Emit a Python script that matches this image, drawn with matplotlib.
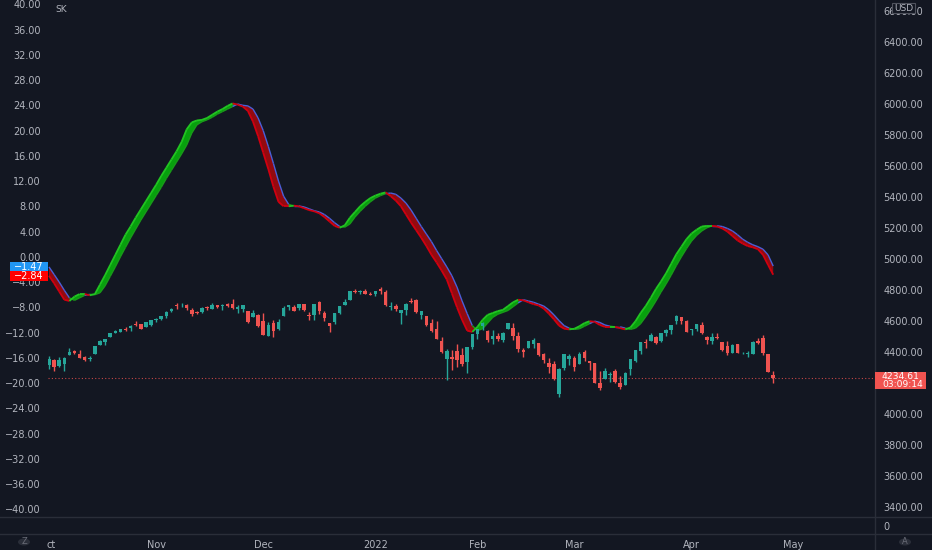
import numpy as np
import matplotlib
matplotlib.use("Agg")
import matplotlib.pyplot as plt
from matplotlib.patches import Rectangle, Circle
from matplotlib.lines import Line2D
from matplotlib.collections import LineCollection

# ---------------- data (daily bars, Oct 2021 - Apr 2022) ----------------
opens = [4317, 4348, 4310, 4320, 4384, 4406, 4386, 4368, 4358, 4387,
         4448, 4464, 4497, 4524, 4532, 4547, 4553, 4579, 4580, 4562,
         4573, 4610, 4613, 4631, 4662, 4699, 4702, 4707, 4670, 4659,
         4656, 4689, 4679, 4701, 4700, 4708, 4712, 4679, 4675, 4664,
         4628, 4640, 4602, 4504, 4590, 4548, 4632, 4690, 4691, 4687,
         4710, 4642, 4637, 4720, 4652, 4587, 4594, 4650, 4703, 4733,
         4795, 4789, 4795, 4775, 4778, 4804, 4788, 4693, 4698, 4655,
         4670, 4729, 4733, 4637, 4632, 4588, 4547, 4471, 4356, 4367,
         4408, 4381, 4337, 4432, 4519, 4566, 4535, 4483, 4505, 4480,
         4547, 4554, 4506, 4412, 4429, 4455, 4456, 4385, 4332, 4325,
         4130, 4298, 4355, 4363, 4322, 4401, 4342, 4327, 4203, 4224,
         4253, 4279, 4203, 4188, 4288, 4345, 4407, 4463, 4470, 4494,
         4470, 4522, 4541, 4602, 4624, 4599, 4540, 4547, 4572, 4495,
         4474, 4494, 4462, 4437, 4394, 4449, 4392, 4385, 4390, 4473,
         4489, 4385, 4255]
highs = [4375, 4356, 4369, 4366, 4429, 4412, 4415, 4375, 4373, 4439,
         4475, 4487, 4521, 4540, 4551, 4560, 4572, 4599, 4584, 4597,
         4608, 4620, 4635, 4664, 4684, 4719, 4714, 4708, 4685, 4664,
         4688, 4697, 4714, 4701, 4708, 4718, 4744, 4701, 4703, 4664,
         4672, 4646, 4652, 4595, 4608, 4613, 4695, 4705, 4706, 4713,
         4710, 4660, 4710, 4732, 4666, 4587, 4651, 4698, 4741, 4791,
         4808, 4800, 4808, 4787, 4797, 4819, 4798, 4725, 4708, 4673,
         4714, 4749, 4744, 4666, 4632, 4611, 4603, 4495, 4418, 4411,
         4453, 4428, 4432, 4517, 4550, 4596, 4542, 4540, 4521, 4531,
         4590, 4589, 4527, 4427, 4473, 4490, 4456, 4395, 4362, 4339,
         4295, 4385, 4388, 4375, 4401, 4416, 4343, 4328, 4276, 4299,
         4268, 4292, 4247, 4272, 4358, 4412, 4465, 4482, 4522, 4501,
         4520, 4546, 4575, 4637, 4627, 4604, 4548, 4583, 4593, 4503,
         4521, 4521, 4464, 4471, 4453, 4453, 4400, 4410, 4471, 4489,
         4512, 4386, 4275]
lows = [4289, 4279, 4304, 4278, 4384, 4386, 4360, 4342, 4341, 4387,
        4448, 4447, 4496, 4524, 4527, 4538, 4537, 4569, 4551, 4562,
        4568, 4595, 4604, 4621, 4659, 4681, 4694, 4670, 4630, 4648,
        4651, 4672, 4679, 4685, 4672, 4692, 4681, 4655, 4660, 4585,
        4625, 4560, 4511, 4504, 4495, 4541, 4632, 4670, 4667, 4670,
        4666, 4607, 4607, 4647, 4600, 4531, 4583, 4645, 4703, 4733,
        4780, 4778, 4775, 4766, 4759, 4774, 4699, 4671, 4663, 4582,
        4638, 4718, 4650, 4614, 4568, 4531, 4482, 4396, 4222, 4287,
        4304, 4309, 4264, 4421, 4484, 4544, 4465, 4451, 4471, 4465,
        4547, 4477, 4402, 4365, 4429, 4429, 4373, 4328, 4267, 4222,
        4110, 4287, 4318, 4279, 4322, 4345, 4285, 4199, 4157, 4224,
        4209, 4202, 4162, 4187, 4252, 4335, 4390, 4425, 4469, 4455,
        4465, 4501, 4517, 4581, 4581, 4530, 4507, 4539, 4514, 4450,
        4451, 4487, 4408, 4382, 4392, 4392, 4385, 4370, 4390, 4452,
        4384, 4268, 4200]
closes = [4357, 4301, 4346, 4364, 4400, 4391, 4361, 4350, 4364, 4439,
          4471, 4486, 4520, 4537, 4550, 4545, 4567, 4575, 4551, 4597,
          4605, 4613, 4631, 4660, 4680, 4697, 4702, 4685, 4646, 4649,
          4683, 4682, 4701, 4689, 4705, 4698, 4682, 4690, 4701, 4595,
          4655, 4567, 4513, 4577, 4538, 4592, 4686, 4701, 4667, 4712,
          4669, 4635, 4709, 4668, 4621, 4568, 4649, 4697, 4726, 4791,
          4786, 4793, 4778, 4766, 4797, 4794, 4701, 4696, 4677, 4670,
          4713, 4726, 4659, 4663, 4577, 4533, 4483, 4398, 4410, 4356,
          4350, 4326, 4432, 4516, 4546, 4589, 4477, 4501, 4484, 4522,
          4587, 4504, 4419, 4402, 4472, 4475, 4380, 4349, 4305, 4226,
          4288, 4385, 4374, 4306, 4387, 4363, 4329, 4201, 4171, 4278,
          4260, 4204, 4173, 4262, 4358, 4412, 4463, 4461, 4512, 4457,
          4520, 4543, 4575, 4632, 4602, 4530, 4546, 4583, 4526, 4481,
          4500, 4488, 4413, 4397, 4447, 4392, 4394, 4392, 4463, 4459,
          4394, 4272, 4234.61]

sk_k = [-3.0, -4.2, -5.5, -6.8, -7.0, -6.3, -5.9, -5.9, -6.1, -5.9,
        -4.4, -2.9, -1.3, 0.3, 1.9, 3.5, 4.8, 6.2, 7.5, 8.8,
        10.1, 11.4, 12.8, 14.1, 15.4, 16.7, 18.2, 20.2, 21.3, 21.6,
        21.7, 22.0, 22.5, 23.0, 23.4, 23.9, 24.3, 24.1, 23.8, 23.1,
        21.4, 19.1, 16.5, 13.9, 11.1, 8.7, 8.0, 8.0, 8.1, 8.0,
        7.7, 7.4, 7.2, 6.9, 6.3, 5.6, 4.9, 4.6, 5.0, 6.2,
        7.1, 8.0, 8.7, 9.3, 9.7, 10.0, 10.2, 9.6, 8.9, 8.0,
        6.7, 5.4, 4.2, 3.0, 1.7, 0.3, -0.9, -2.2, -3.6, -5.8,
        -8.0, -10.0, -11.7, -11.9, -11.1, -10.0, -9.2, -8.9, -8.6, -8.4,
        -7.8, -7.2, -6.8, -6.9, -7.2, -7.5, -7.7, -8.2, -9.0, -9.9,
        -10.9, -11.4, -11.5, -11.4, -11.0, -10.5, -10.2, -10.3, -10.8, -11.1,
        -11.1, -11.1, -11.3, -11.5, -11.2, -10.2, -8.9, -7.8, -6.5, -5.1,
        -3.9, -2.6, -1.1, 0.4, 1.6, 2.8, 3.7, 4.3, 4.8, 4.9,
        4.9, 4.8, 4.5, 4.0, 3.3, 2.6, 2.1, 1.7, 1.5, 1.2,
        0.3, -1.3, -2.84]
sk_d = [-1.6, -2.8, -4.0, -5.3, -6.5, -6.9, -6.5, -6.1, -5.95, -6.0,
        -5.7, -4.6, -3.1, -1.6, 0.0, 1.5, 3.0, 4.4, 5.8, 7.1,
        8.4, 9.7, 11.0, 12.4, 13.7, 15.0, 16.3, 17.7, 19.6, 20.9,
        21.4, 21.7, 22.1, 22.6, 23.0, 23.4, 23.8, 24.2, 24.0, 23.9,
        23.4, 22.0, 20.0, 17.5, 14.8, 12.0, 9.6, 8.3, 8.05, 8.05,
        7.9, 7.6, 7.3, 7.1, 6.7, 6.1, 5.4, 4.8, 4.7, 5.2,
        6.3, 7.2, 8.0, 8.7, 9.3, 9.7, 10.0, 10.1, 9.9, 9.3,
        8.5, 7.4, 6.1, 4.8, 3.6, 2.4, 1.0, -0.3, -1.6, -3.0,
        -4.8, -7.0, -9.0, -10.9, -11.7, -11.4, -10.5, -9.6, -9.1, -8.8,
        -8.5, -7.9, -7.3, -6.8, -7.0, -7.2, -7.5, -7.8, -8.4, -9.2,
        -10.1, -10.9, -11.3, -11.5, -11.4, -11.0, -10.6, -10.2, -10.4, -10.8,
        -11.0, -11.1, -11.1, -11.3, -11.5, -11.3, -10.6, -9.5, -8.3, -7.0,
        -5.6, -4.3, -2.9, -1.4, 0.0, 1.3, 2.5, 3.4, 4.1, 4.6,
        4.9, 4.9, 4.8, 4.5, 4.1, 3.5, 2.8, 2.3, 1.9, 1.6,
        1.2, 0.3, -1.47]

month_labels = ["ct", "Nov", "Dec", "2022", "Feb", "Mar", "Apr", "May"]
month_bars = [0.5, 21, 42, 64, 84, 103, 126, 146]
sk_ticks = list(range(-40, 41, 4))
price_ticks = [3400, 3600, 3800, 4000, 4400, 4600, 4800, 5000, 5200, 5400,
               5600, 5800, 6000, 6200, 6400, 6600]
last_price = 4234.61
countdown = "03:09:14"

# ---------------- style ----------------
BG = "#131722"
TXT = "#b2b5be"
SEP = "#2a2e39"
UP = "#26a69a"
DN = "#ef5350"
W, H = 932, 550

plt.rcParams['font.family'] = ['DejaVu Sans']
fig = plt.figure(figsize=(W / 100, H / 100), dpi=100, facecolor=BG)

def fx(px):
    return px / W

def fy(py):
    return 1 - py / H

L, R = 48, 875
ax = fig.add_axes([fx(L), fy(517), fx(R) - fx(L), 517 / H])
ax.set_facecolor(BG)
axp = ax.twinx()
ax3 = fig.add_axes([fx(L), fy(534), fx(R) - fx(L), 17 / H], sharex=ax)
ax3.set_facecolor(BG)

n = len(closes)
x = np.arange(n)
ax.set_xlim(-0.196, 161.96)

# ---- indicator ----
k = np.array(sk_k)
d = np.array(sk_d)
ax.fill_between(x, k, d, where=k >= d, interpolate=True, color="#00ff00", alpha=0.6, lw=0, zorder=2)
ax.fill_between(x, k, d, where=k < d, interpolate=True, color="#ff0000", alpha=0.55, lw=0, zorder=2)
dsegs = [[(x[i], d[i]), (x[i + 1], d[i + 1])] for i in range(n - 1)]
dcols = ["#1a9a1a" if k[i + 1] >= d[i + 1] else "#4a5fd8" for i in range(n - 1)]
ax.add_collection(LineCollection(dsegs, colors=dcols, linewidths=1.0, zorder=3))
ksegs = [[(x[i], k[i]), (x[i + 1], k[i + 1])] for i in range(n - 1)]
kcols = ["#22c422" if k[i + 1] >= d[i + 1] else "#d00010" for i in range(n - 1)]
ax.add_collection(LineCollection(ksegs, colors=kcols, linewidths=1.3, zorder=4))
ax.set_ylim(-41.22, 40.68)
ax.set_yticks(sk_ticks)
ax.set_yticklabels([f"{v:.2f}".replace("-", "\u2212") for v in sk_ticks])
ax.tick_params(axis="y", left=True, right=False, labelleft=True, length=0, pad=5,
               labelsize=7, labelcolor=TXT)
ax.tick_params(axis="x", bottom=False, labelbottom=False)

# ---- candles ----
o = np.array(opens, float)
c = np.array(closes, float)
h = np.array(highs, float)
lo = np.array(lows, float)
colors = [UP if c[i] >= o[i] else DN for i in range(n)]
axp.vlines(x, lo, h, colors=colors, lw=1.0, zorder=5)
axp.bar(x, np.maximum(np.abs(c - o), 4), bottom=np.minimum(o, c), width=0.7,
        color=colors, lw=0, zorder=6)
axp.axhline(last_price, color=DN, lw=0.8, ls=(0, (1, 2)), alpha=0.8, zorder=4)
axp.set_ylim(3335, 6673)
axp.set_yticks(price_ticks)
axp.set_yticklabels([f"{v:.2f}" for v in price_ticks])
axp.tick_params(axis="y", right=True, left=False, labelright=True, labelleft=False,
                length=0, pad=6, labelsize=7, labelcolor=TXT)
axp.tick_params(axis="x", bottom=False, labelbottom=False)

for a in (ax, axp, ax3):
    for s in a.spines.values():
        s.set_visible(False)

# ---- bottom pane / time axis ----
ax3.set_ylim(-1, 1)
ax3.yaxis.tick_right()
ax3.set_yticks([0])
ax3.set_yticklabels(["0"])
ax3.tick_params(axis="y", length=0, pad=6, labelsize=7, labelcolor=TXT)
ax3.set_xticks(month_bars)
ax3.set_xticklabels(month_labels)
ax3.tick_params(axis="x", length=0, pad=4, labelsize=7, labelcolor=TXT)

# ---- separators ----
fig.add_artist(Line2D([fx(R), fx(R)], [0, 1], transform=fig.transFigure, color=SEP, lw=1))
for yy in (517, 534):
    fig.add_artist(Line2D([0, 1], [fy(yy), fy(yy)], transform=fig.transFigure, color=SEP, lw=1))

# ---- overlays ----
def box(x0, y0, x1, y1, fc, ec="none", lw=0):
    fig.add_artist(Rectangle((fx(x0), fy(y1)), fx(x1) - fx(x0), fy(y0) - fy(y1),
                             transform=fig.transFigure, fc=fc, ec=ec, lw=lw, zorder=10))

box(10, 262, 48, 271, "#2196f3")
box(10, 271, 48, 281, "#ff0000")
fig.text(fx(14), fy(266.5), "\u22121.47", color="white", fontsize=7, va="center", ha="left", zorder=11)
fig.text(fx(14), fy(276), "\u22122.84", color="white", fontsize=7, va="center", ha="left", zorder=11)

box(875, 372, 926, 389, "#f05350")
fig.text(fx(882), fy(380.5), f"{last_price:.2f}\n{countdown}", color="white", fontsize=6.6,
         va="center", ha="left", linespacing=0.95, zorder=11)

box(892, 3.5, 915, 13, BG, ec="#50535e", lw=0.8)
fig.text(fx(903.5), fy(8.5), "USD", color=TXT, fontsize=6.5, va="center", ha="center", zorder=11)

fig.text(fx(55), fy(9.5), "SK", color=TXT, fontsize=6.5, va="center", ha="left")

for cx, lab in ((24, "Z"), (905, "A")):
    fig.add_artist(Circle((fx(cx), fy(542)), 6 / W, transform=fig.transFigure,
                          fc="#2a2e39", ec="none", zorder=10))
    fig.text(fx(cx), fy(542), lab, color="#6a6d78", fontsize=6, va="center", ha="center", zorder=11)

fig.savefig("out.png", dpi=100, facecolor=BG)
